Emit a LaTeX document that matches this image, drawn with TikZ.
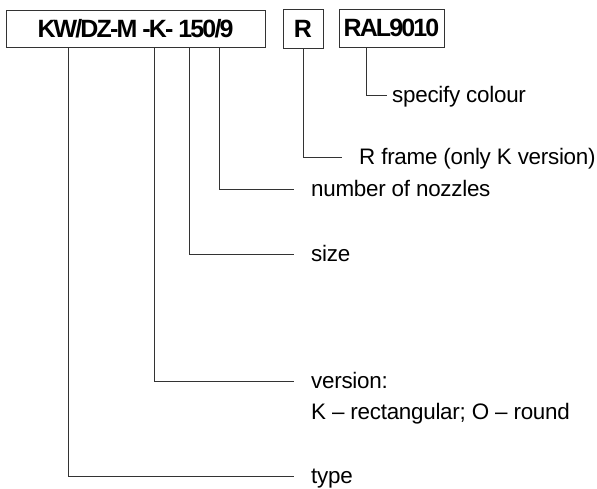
\documentclass[tikz,border=0pt]{standalone}
\usepackage{fontspec}
\setmainfont[LetterSpace=-1.2]{Liberation Sans}
\newfontfamily\boldtight[LetterSpace=-7.5]{Liberation Sans Bold}
\begin{document}
\begin{tikzpicture}[x=1pt,y=-1pt,
  codebox/.style={draw=black!80, line width=1pt, inner sep=0pt, font=\boldtight\fontsize{25}{25}\selectfont},
  lbl/.style={anchor=west, inner sep=0pt, text height=15pt, text depth=0pt, font=\fontsize{22.4}{31}\selectfont},
  conn/.style={draw=black!80, line width=0.9pt}]
\useasboundingbox (0,0) rectangle (597,488);
\node[codebox, minimum width=259pt, minimum height=37pt] (main) at (135.5,28.5) {KW/DZ-M -K- 150/9};
\node[codebox, minimum width=40pt, minimum height=39pt] (rbox) at (303,28.5) {R};
\node[codebox, minimum width=105pt, minimum height=38pt] (ral) at (391.5,28) {RAL9010};

\node[lbl] (colour) at (392,95) {specify colour};
\node[lbl] (rframe) at (359,157) {R frame (only K version)};
\node[lbl] (nozzles) at (311,189) {number of nozzles};
\node[lbl] (size) at (311,254) {size};
\node[lbl] (version) at (311,381) {version:};
\node[lbl] (version2) at (311,412) {K -- rectangular; O -- round};
\node[lbl] (type) at (311,476) {type};

\draw[conn] (ral.south -| 366,0) |- ([xshift=-5pt]colour.west);
\draw[conn] (rbox.south) |- ([xshift=-17pt]rframe.west);
\draw[conn] (main.south -| 219,0) |- ([xshift=-17pt]nozzles.west);
\draw[conn] (main.south -| 189,0) |- ([xshift=-17pt]size.west);
\draw[conn] (main.south -| 154,0) |- ([xshift=-17pt]version.west);
\draw[conn] (main.south -| 68,0) |- ([xshift=-17pt]type.west);
\end{tikzpicture}
\end{document}
